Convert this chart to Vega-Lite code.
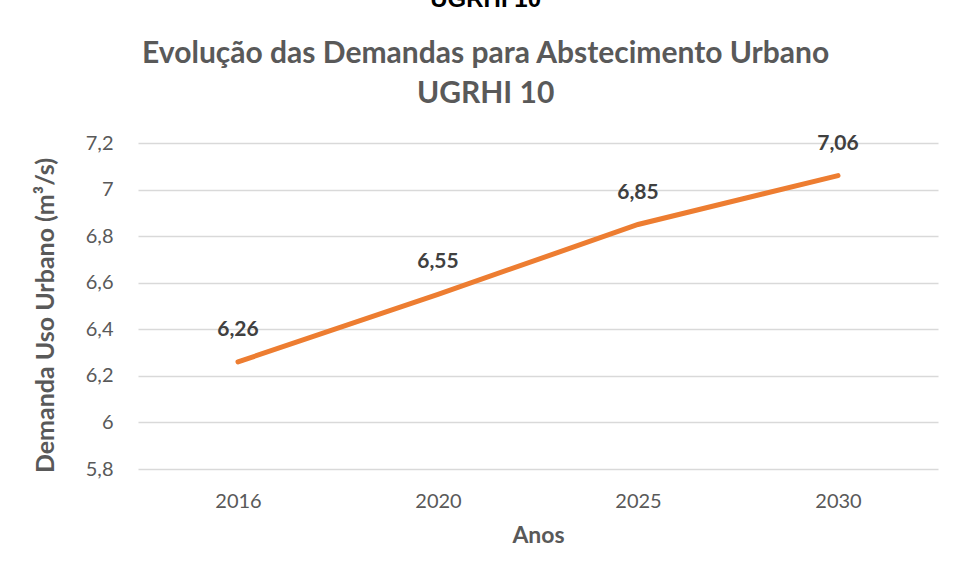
{
  "$schema": "https://vega.github.io/schema/vega-lite/v6.json",
  "autosize": "none",
  "width": 800,
  "height": 326,
  "padding": {"left": 138, "top": 143, "right": 16, "bottom": 108},
  "background": "white",
  "config": {
    "locale": {"number": {"decimal": ",", "thousands": ".", "grouping": [3], "currency": ["R$", ""]}},
    "view": {"stroke": null},
    "font": "Lato"
  },
  "title": {
    "text": "UGRHI 10",
    "subtitle": ["Evolução das Demandas para Abstecimento Urbano", "UGRHI 10"],
    "anchor": "middle",
    "frame": "bounds",
    "font": "Liberation Sans",
    "fontSize": 24,
    "fontWeight": "bold",
    "color": "#000000",
    "subtitleFont": "Lato",
    "subtitleFontSize": 30,
    "subtitleFontWeight": "bold",
    "subtitleColor": "#595959",
    "subtitleLineHeight": 40,
    "subtitlePadding": 27,
    "offset": 24
  },
  "data": {
    "values": [
      {"ano": "2016", "demanda": 6.26},
      {"ano": "2020", "demanda": 6.55},
      {"ano": "2025", "demanda": 6.85},
      {"ano": "2030", "demanda": 7.06}
    ]
  },
  "encoding": {
    "x": {
      "field": "ano",
      "type": "ordinal",
      "scale": {"type": "point", "padding": 0.5},
      "axis": {
        "title": "Anos",
        "labelAngle": 0,
        "domain": false,
        "ticks": false,
        "grid": false,
        "labelPadding": 22,
        "labelFontSize": 20,
        "labelColor": "#595959",
        "labelFont": "Lato",
        "titleFont": "Lato",
        "titleFontSize": 23,
        "titleFontWeight": "bold",
        "titleColor": "#595959",
        "titlePadding": 13
      }
    },
    "y": {
      "field": "demanda",
      "type": "quantitative",
      "scale": {"domain": [5.8, 7.2], "nice": false, "zero": false},
      "axis": {
        "title": "Demanda Uso Urbano (m³/s)",
        "values": [5.8, 6.0, 6.2, 6.4, 6.6, 6.8, 7.0, 7.2],
        "format": ".1~f",
        "domain": false,
        "ticks": false,
        "gridColor": "#D9D9D9",
        "gridWidth": 1.5,
        "labelPadding": 25,
        "labelFontSize": 20,
        "labelColor": "#595959",
        "labelFont": "Lato",
        "titleFont": "Lato",
        "titleFontSize": 25,
        "titleFontWeight": "bold",
        "titleColor": "#595959",
        "titlePadding": 27,
        "titleY": 172
      }
    }
  },
  "layer": [
    {
      "mark": {"type": "line", "color": "#ED7D31", "strokeWidth": 5, "strokeCap": "round"}
    },
    {
      "mark": {"type": "text", "dy": -32, "fontSize": 21, "fontWeight": "bold", "color": "#404040", "font": "Lato"},
      "encoding": {"text": {"field": "demanda", "type": "quantitative", "format": ".2f"}}
    }
  ]
}
